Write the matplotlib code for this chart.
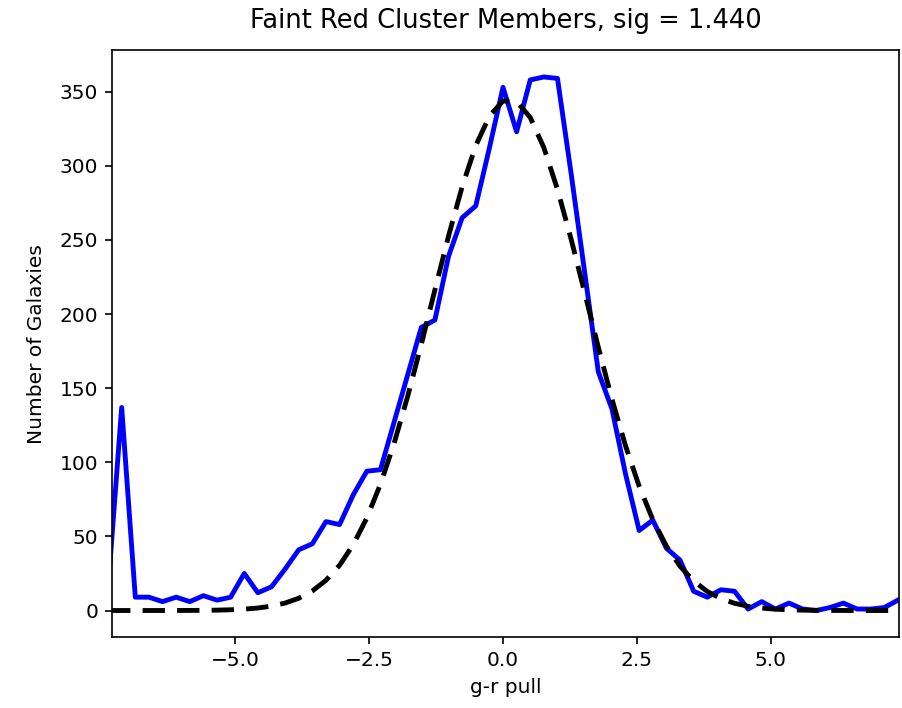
import numpy as np
import matplotlib
matplotlib.use("Agg")
import matplotlib.pyplot as plt

# histogram of g-r pull, 59 bins between -7.5 and 7.5
bin_edges = np.linspace(-7.5, 7.5, 60)
counts = [15, 137, 9, 9, 6, 9, 6, 10, 7, 9,
          25, 12, 16, 28, 41, 45, 60, 58, 78, 94,
          95, 127, 159, 191, 196, 239, 265, 273, 312, 353,
          323, 358, 360, 359, 295, 228, 161, 136, 92, 54,
          61, 42, 34, 13, 9, 14, 13, 1, 6, 1,
          5, 1, 0, 2, 5, 1, 1, 2, 7]

# gaussian fit parameters
amp = 345.0
mu = 0.12
sig = 1.440

centers = 0.5 * (bin_edges[:-1] + bin_edges[1:])
fit = amp * np.exp(-(centers - mu) ** 2 / (2 * sig ** 2))

fig = plt.figure(figsize=(9.03, 7.08), dpi=100)
ax = fig.add_axes([0.124, 0.100, 0.872, 0.829])

ax.plot(centers, counts, color='#0000ff', lw=3.5)
ax.plot(centers, fit, color='k', lw=3.5, linestyle='--', dashes=(4.6, 2.5))

ax.set_xlim(-7.3, 7.4)
ax.set_xticks([-5.0, -2.5, 0.0, 2.5, 5.0])
ax.set_title(f"Faint Red Cluster Members, sig = {sig:.3f}", fontsize=18.5, pad=16)
ax.set_xlabel("g-r pull", fontsize=14.5, labelpad=6)
ax.set_ylabel("Number of Galaxies", fontsize=14.5, labelpad=10)
ax.tick_params(labelsize=14.5, width=1.2, length=5, pad=5)
for s in ax.spines.values():
    s.set_linewidth(1.2)

fig.savefig("out.png", dpi=100)
